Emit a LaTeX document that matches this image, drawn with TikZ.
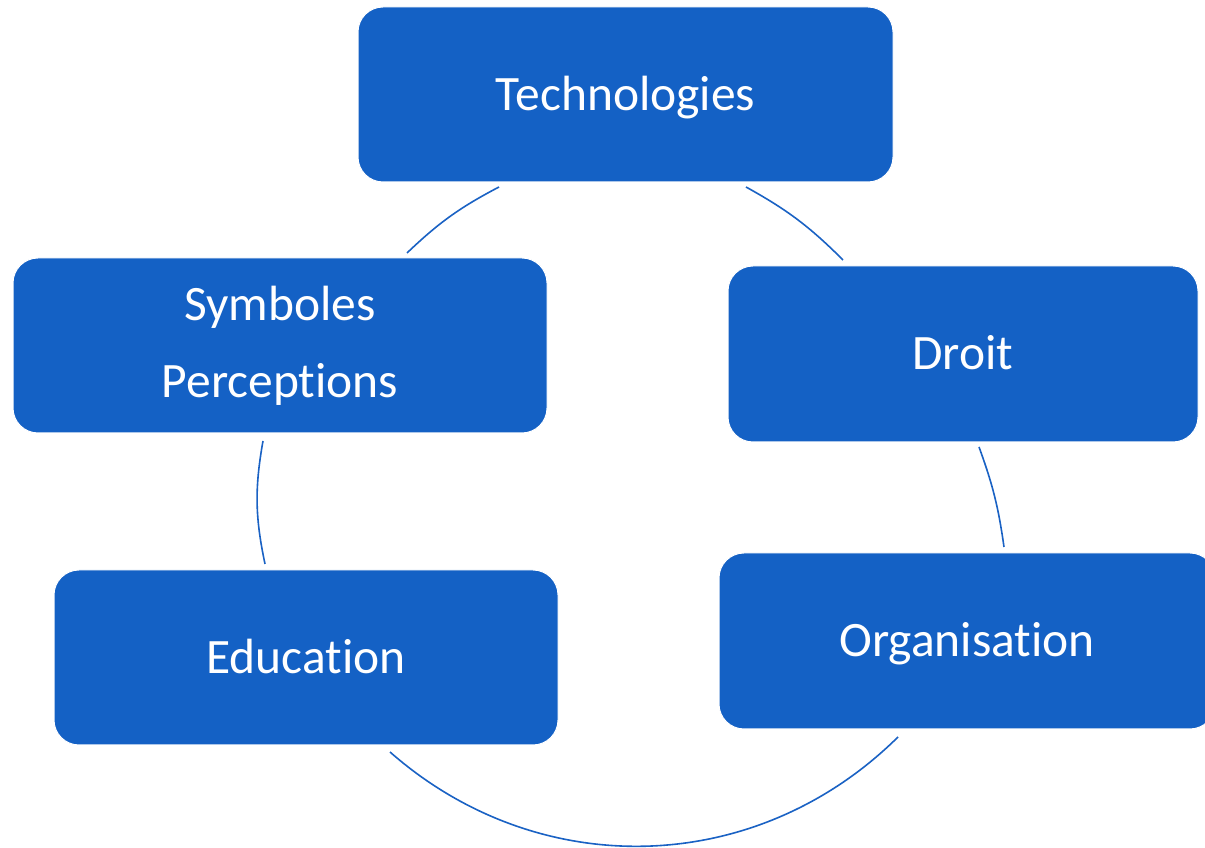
\documentclass[tikz,border=0pt]{standalone}
\usepackage{fontspec}
\setmainfont{Carlito}[Ligatures={NoCommon}]
\definecolor{boxblue}{HTML}{1461C5}
\definecolor{arcblue}{HTML}{1A62C4}
\tikzset{
  stage/.style={rectangle, rounded corners=25pt, fill=boxblue, draw=white,
    line width=1pt, text=white, inner sep=0pt,
    font=\fontsize{49.5}{77}\selectfont},
  oneline/.style={text height=31.8pt, text depth=0pt},
  link/.style={draw=arcblue, line width=1.6pt}
}
\begin{document}
\begin{tikzpicture}[x=1pt,y=1pt]
  \useasboundingbox (0,0) rectangle (1205,848);
  \fill[white] (0,0) rectangle (1205,848);

  % end points of the cycle arcs, just clear of the boxes
  \coordinate (techR) at (746,661);
  \coordinate (droitT) at (843,588);
  \coordinate (droitB) at (979,401);
  \coordinate (orgT) at (1004,301);
  \coordinate (orgB) at (898,111);
  \coordinate (eduB) at (390,96);
  \coordinate (eduT) at (265,284);
  \coordinate (symbB) at (263,407);
  \coordinate (symbT) at (407,595);
  \coordinate (techL) at (499,661);

  % arcs, clockwise round the cycle
  \draw[link] (techR) to[bend left=8] (droitT);
  \draw[link] (droitB) to[bend left=6] (orgT);
  \draw[link] (orgB) to[bend left=43] (eduB);
  \draw[link] (eduT) to[bend left=11] (symbB);
  \draw[link] (symbT) to[bend left=8] (techL);

  % the five stages
  \node[stage, oneline, minimum width=535pt, minimum height=175pt]
    (tech) at (625.5,753.5) {Technologies};
  \node[stage, oneline, minimum width=470pt, minimum height=176pt]
    (droit) at (963,494) {Droit};
  \node[stage, oneline, minimum width=496pt, minimum height=176pt]
    (org) at (967,207) {Organisation};
  \node[stage, oneline, minimum width=504pt, minimum height=175pt]
    (edu) at (306,190.5) {Education};
  \node[stage, align=center, minimum width=534pt, minimum height=175pt]
    (symb) at (280,502.5) {Symboles\\Perceptions};
\end{tikzpicture}
\end{document}
